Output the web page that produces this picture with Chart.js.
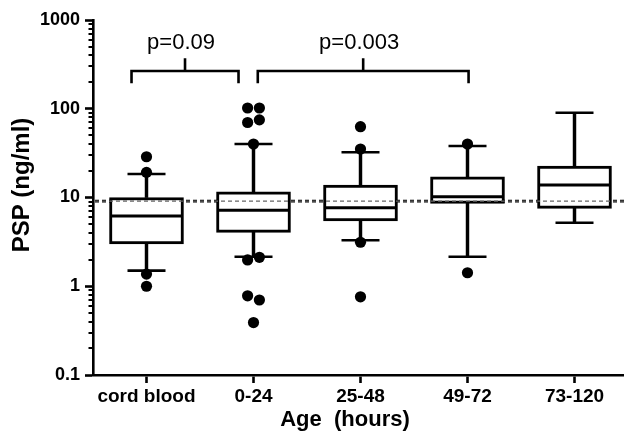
<!DOCTYPE html>
<html>
<head>
<meta charset="utf-8">
<script src="https://cdn.jsdelivr.net/npm/chart.js@4.4.1/dist/chart.umd.min.js"></script>
<style>
  html, body { margin: 0; padding: 0; background: #fff; overflow: hidden; }
  #wrap { width: 632px; height: 436px; }
</style>
</head>
<body>
<div id="wrap"><canvas id="c" width="632" height="436"></canvas></div>
<script>
// ---- data ----
const CATEGORIES = ['cord blood', '0-24', '25-48', '49-72', '73-120'];
const Q1 = [3.0, 4.05, 5.45, 8.6, 7.55];
const MEDIAN = [6.2, 7.2, 7.65, 10.2, 13.8];
const Q3 = [10.0, 11.6, 13.8, 17.1, 22.6];
const WHISKER_LOW = [1.5, 2.15, 3.3, 2.15, 5.2];
const WHISKER_HIGH = [18.4, 40, 32.3, 38, 90];
const OUTLIERS = [
  [28.8, 19.2, 1.37, 1.0],
  [102, 102, 70, 75, 40, 1.98, 2.12, 0.78, 0.70, 0.39],
  [62.8, 35.2, 3.13, 0.76],
  [40, 1.42],
  []
];
const REFERENCE_LEVEL = 9.1;
const Y_TICKS = [0.1, 1, 10, 100, 1000];
const COMPARISONS = [
  { from: 0, to: 1, label: 'p=0.09' },
  { from: 1, to: 3, label: 'p=0.003' }
];

// ---- layout / style settings ----
const FONT = "'Liberation Sans', Arial, Helvetica, sans-serif";
const BRACKET_STYLE = [
  { x1off: -0.14, x2off: -0.14 },
  { x1off: 0.04, x2off: 0.01 }
];
const BRACKET_Y = 266, BRACKET_LEG = 194, BRACKET_TOP = 370, BRACKET_TEXT = 551;
const JITTER = 0.055;

// build point data
const boxData = CATEGORIES.map((c, i) => ({ x: i, y: [Q1[i], Q3[i]] }));
const whiskerUp = CATEGORIES.map((c, i) => ({ x: i, y: [Q3[i], WHISKER_HIGH[i]] }));
const whiskerDown = CATEGORIES.map((c, i) => ({ x: i, y: [WHISKER_LOW[i], Q1[i]] }));
const medianData = CATEGORIES.map((c, i) => ({ x: i, y: MEDIAN[i] }));
const capData = [];
CATEGORIES.forEach((c, i) => { capData.push({ x: i, y: WHISKER_HIGH[i] }); capData.push({ x: i, y: WHISKER_LOW[i] }); });
const outlierData = [];
OUTLIERS.forEach((vals, i) => {
  let k = 0;
  while (k < vals.length) {
    if (k + 1 < vals.length && Math.abs(Math.log10(vals[k]) - Math.log10(vals[k + 1])) < 0.1) {
      outlierData.push({ x: i - JITTER, y: vals[k] });
      outlierData.push({ x: i + JITTER, y: vals[k + 1] });
      k += 2;
    } else {
      outlierData.push({ x: i, y: vals[k] });
      k += 1;
    }
  }
});

const allLogTicks = [];
for (let e = -1; e < 3; e++) {
  for (let m = 1; m < 10; m++) allLogTicks.push(+(m * Math.pow(10, e)).toPrecision(3));
}
allLogTicks.push(1000);
const isMajor = v => Y_TICKS.some(t => Math.abs(t - v) / t < 1e-6);

const decorPlugin = {
  id: 'decor',
  beforeDatasetsDraw(chart) {
    const { ctx, chartArea } = chart;
    const y = chart.scales.y.getPixelForValue(REFERENCE_LEVEL);
    ctx.save();
    ctx.strokeStyle = '#000';
    ctx.lineWidth = 2.6;
    ctx.setLineDash([4, 3]);
    ctx.beginPath();
    ctx.moveTo(chartArea.left + 2, y);
    ctx.lineTo(chartArea.right, y);
    ctx.stroke();
    ctx.restore();
  },
  afterDatasetsDraw(chart) {
    const { ctx, chartArea } = chart;
    const y = chart.scales.y.getPixelForValue(REFERENCE_LEVEL);
    ctx.save();
    ctx.strokeStyle = '#666';
    ctx.lineWidth = 1.2;
    ctx.setLineDash([4, 3]);
    ctx.beginPath();
    ctx.moveTo(chartArea.left + 2, y);
    ctx.lineTo(chartArea.right, y);
    ctx.stroke();
    ctx.restore();
  },
  afterDraw(chart) {
    const { ctx, chartArea } = chart;
    const xs = chart.scales.x, ys = chart.scales.y;
    ctx.save();
    // minor log ticks
    ctx.strokeStyle = '#000';
    ctx.lineWidth = 2;
    allLogTicks.forEach(v => {
      if (isMajor(v)) return;
      const py = Math.round(ys.getPixelForValue(v));
      ctx.beginPath();
      ctx.moveTo(chartArea.left - 4.5, py);
      ctx.lineTo(chartArea.left, py);
      ctx.stroke();
    });
    // comparison brackets
    ctx.lineWidth = 2.6;
    ctx.fillStyle = '#000';
    ctx.font = '22px ' + FONT;
    ctx.textAlign = 'center';
    ctx.textBaseline = 'middle';
    COMPARISONS.forEach((c, k) => {
      const st = BRACKET_STYLE[k];
      const x1 = xs.getPixelForValue(c.from + st.x1off);
      const x2 = xs.getPixelForValue(c.to + st.x2off);
      const yb = ys.getPixelForValue(BRACKET_Y);
      const yl = ys.getPixelForValue(BRACKET_LEG);
      const yt = ys.getPixelForValue(BRACKET_TOP);
      const xm = (x1 + x2) / 2;
      ctx.beginPath();
      ctx.moveTo(x1, yl); ctx.lineTo(x1, yb); ctx.lineTo(x2, yb); ctx.lineTo(x2, yl);
      ctx.moveTo(xm, yb); ctx.lineTo(xm, yt);
      ctx.stroke();
      ctx.fillText(c.label, xm - 4, ys.getPixelForValue(BRACKET_TEXT));
    });
    // axis titles
    ctx.font = 'bold 24px ' + FONT;
    ctx.save();
    ctx.translate(22, 185);
    ctx.rotate(-Math.PI / 2);
    ctx.fillText('PSP (ng/ml)', 0, 0);
    ctx.restore();
    ctx.font = 'bold 22px ' + FONT;
    ctx.fillText('Age  (hours)', 345, 420);
    ctx.restore();
  }
};

new Chart(document.getElementById('c'), {
  data: {
    datasets: [
      { type: 'scatter', data: outlierData, pointRadius: 5.6, pointHoverRadius: 5.6, backgroundColor: '#000', borderWidth: 0, order: 0 },
      { type: 'scatter', data: capData, pointStyle: 'line', pointRadius: 19, pointHoverRadius: 19, borderColor: '#000', borderWidth: 2.6, order: 1 },
      { type: 'scatter', data: medianData, pointStyle: 'line', pointRadius: 36.5, pointHoverRadius: 36.5, borderColor: '#000', borderWidth: 3, order: 2 },
      { type: 'bar', data: boxData, backgroundColor: '#fff', borderColor: '#000', borderWidth: 3, borderSkipped: false, barThickness: 74, grouped: false, order: 3 },
      { type: 'bar', data: whiskerUp, backgroundColor: '#000', borderWidth: 0, barThickness: 2.8, grouped: false, order: 4 },
      { type: 'bar', data: whiskerDown, backgroundColor: '#000', borderWidth: 0, barThickness: 2.8, grouped: false, order: 4 }
    ]
  },
  options: {
    responsive: false,
    animation: false,
    devicePixelRatio: 1,
    layout: { autoPadding: false, padding: { top: 20, right: 4, left: 0, bottom: 0 } },
    plugins: { legend: { display: false }, tooltip: { enabled: false } },
    scales: {
      x: {
        type: 'linear',
        offset: false,
        min: -0.5,
        max: 4.5,
        afterBuildTicks: s => { s.ticks = CATEGORIES.map((c, i) => ({ value: i })); },
        afterFit: s => { s.height = 61; s.paddingLeft = 0; s.paddingRight = 0; },
        grid: { display: true, offset: false, drawOnChartArea: false, tickLength: 8, tickWidth: 2.6, tickColor: '#000' },
        border: { display: true, color: '#000', width: 2.6 },
        ticks: {
          callback: v => CATEGORIES[v],
          color: '#000',
          font: { family: FONT, size: 19, weight: 'bold' },
          padding: 2,
          maxRotation: 0,
          autoSkip: false
        }
      },
      y: {
        type: 'logarithmic',
        offset: false,
        min: 0.1,
        max: 1000,
        afterBuildTicks: s => { s.ticks = Y_TICKS.map(v => ({ value: v, major: true })); },
        afterFit: s => { s.width = 93; s.paddingTop = 0; s.paddingBottom = 0; },
        grid: { display: true, offset: false, drawOnChartArea: false, tickLength: 8, tickWidth: 2.6, tickColor: '#000' },
        border: { display: true, color: '#000', width: 2.6 },
        ticks: {
          callback: v => String(v),
          color: '#000',
          font: { family: FONT, size: 18, weight: 'bold' },
          padding: 5,
          autoSkip: false
        }
      }
    }
  },
  plugins: [decorPlugin]
});
</script>
</body>
</html>
